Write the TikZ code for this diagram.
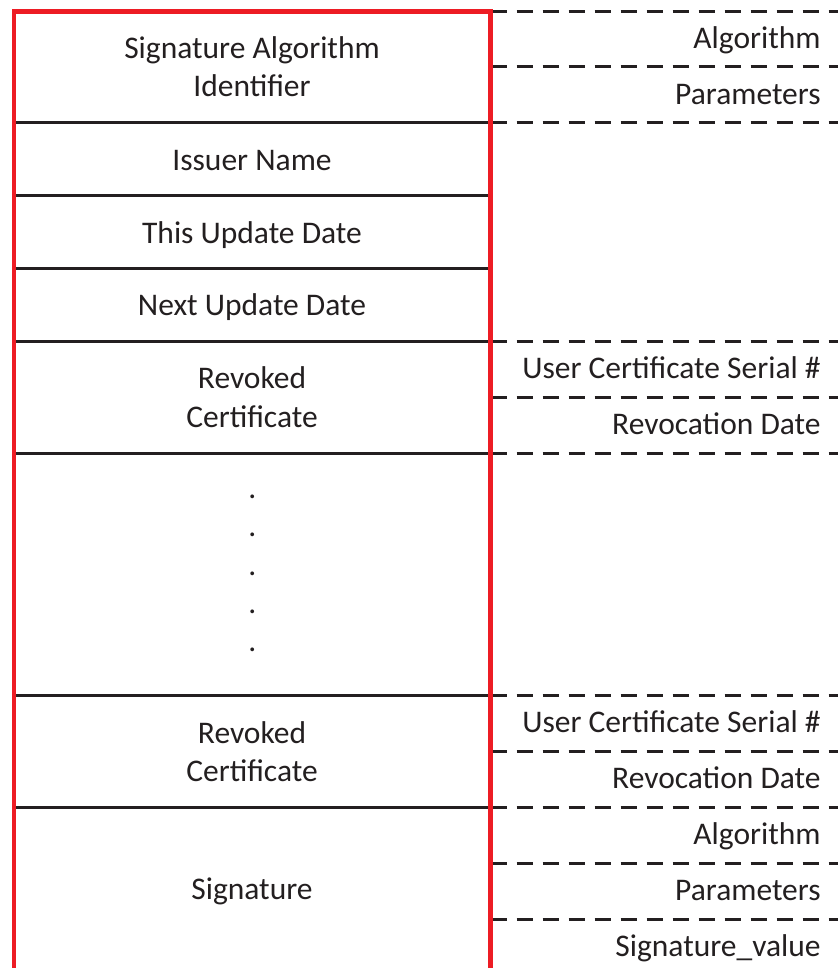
\documentclass[tikz,border=0pt]{standalone}
\usepackage{fontspec}
\setmainfont{Carlito}
\definecolor{framered}{HTML}{ED1C24}
\definecolor{ink}{HTML}{231F20}
\begin{document}
\begin{tikzpicture}[x=0.5pt,y=-0.5pt,
  rule/.style={ink, line width=1.5pt},
  dashrule/.style={ink, line width=1.5pt, dash pattern=on 8pt off 5pt},
  txt/.style={font=\fontsize{15.75}{19}\selectfont, text=ink, inner sep=0pt},
  cell/.style={txt, anchor=base},
  field/.style={txt, anchor=base east}]
\useasboundingbox (0,0) rectangle (838,968);

% solid separators between the CRL fields
\foreach \y in {123,196,268,341,453,695,807}
  \draw[rule] (14,\y) -- (490.5,\y);

% dashed separators of the sub-fields
\foreach \y in {11.5,67,123,341,397,453,695,751,807,863,919}
  \draw[dashrule] (490.5,\y) -- (838,\y);

% red outline of the CRL structure (open at the bottom)
\draw[framered, line width=2.25pt, line join=miter]
  (14,980) -- (14,11.5) -- (490.5,11.5) -- (490.5,980);

% field names
\node[cell] (sigalgA) at (252,59) {Signature Algorithm};
\node[cell] (sigalgB) at (252,97) {Identifier};
\node[cell] (issuer)  at (252,170.5) {Issuer Name};
\node[cell] (thisupd) at (252,243) {This Update Date};
\node[cell] (nextupd) at (252,315.5) {Next Update Date};
\node[cell] (revAa)   at (252,388.7) {Revoked};
\node[cell] (revAb)   at (252,427) {Certificate};
\foreach \y [count=\i] in {498,536.3,575,613.3,651.6}
  \node[cell] (dot\i) at (252.3,\y) {.};
\node[cell] (revBa)   at (252,743) {Revoked};
\node[cell] (revBb)   at (252,781.3) {Certificate};
\node[cell] (sig)     at (252,899.5) {Signature};

% sub-field names
\node[field] (alg1)   at (821,49)  {Algorithm};
\node[field] (par1)   at (821,105) {Parameters};
\node[field] (ser1)   at (821,378) {User Certificate Serial \#};
\node[field] (rdate1) at (821,434.5) {Revocation Date};
\node[field] (ser2)   at (821,732) {User Certificate Serial \#};
\node[field] (rdate2) at (821,788.5) {Revocation Date};
\node[field] (alg2)   at (821,844.5) {Algorithm};
\node[field] (par2)   at (821,900.5) {Parameters};
\node[field] (sval)   at (821,956) {Signature\_value};
\end{tikzpicture}
\end{document}
